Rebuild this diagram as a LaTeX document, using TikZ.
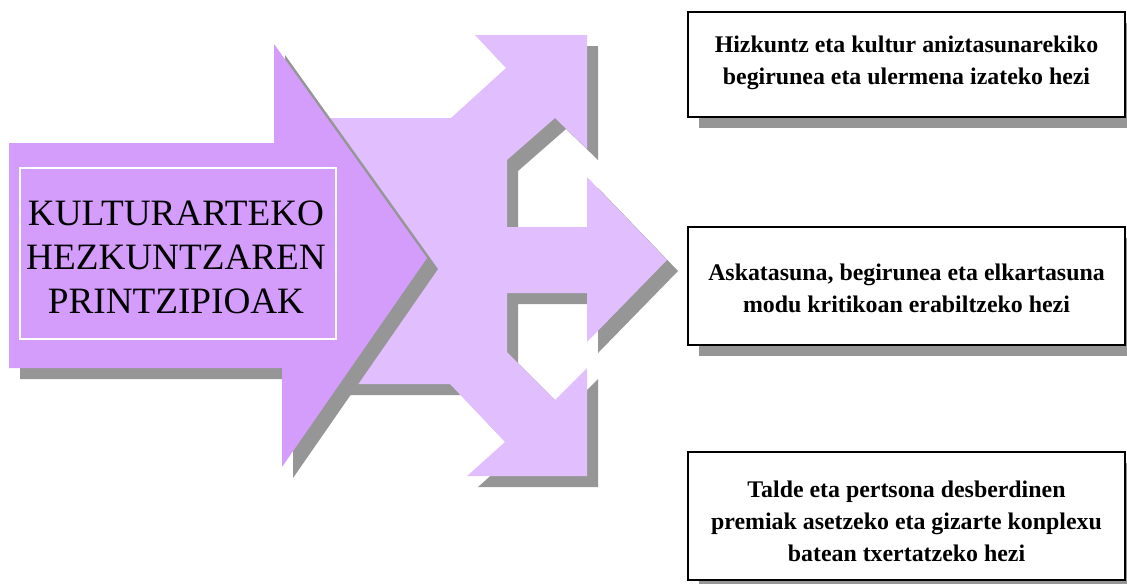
\documentclass[tikz,border=0pt]{standalone}
\usepackage{fontspec}
\setmainfont{Liberation Serif}
\definecolor{mainpurple}{RGB}{212,157,252}
\definecolor{lightpurple}{RGB}{225,190,253}
\definecolor{shadowgray}{RGB}{150,150,150}
\begin{document}
\begin{tikzpicture}[x=0.75pt,y=-0.75pt,
  titletext/.style={align=center,inner sep=0pt,font=\fontsize{27.9pt}{33pt}\selectfont},
  aimtext/.style={align=center,inner sep=0pt,font=\bfseries\fontsize{17.9pt}{24pt}\selectfont},
  aimbox/.style={draw=black,line width=1.2pt,fill=white}]
\useasboundingbox (0,0) rectangle (1127,583);
\fill[shadowgray,shift={(11,11)}] (320,118)--(451,118)--(506,68)--(475,35)--(587,35)--(587,149)--(555,118)--(507,160)--(507,227)--(587,227)--(587,177)--(667,260)--(587,342)--(587,293)--(507,293)--(507,352)--(555,400)--(587,368)--(587,476)--(467,476)--(505,442)--(450,384)--(320,384)--cycle;
\fill[lightpurple] (320,118)--(451,118)--(506,68)--(475,35)--(587,35)--(587,149)--(555,118)--(507,160)--(507,227)--(587,227)--(587,177)--(667,260)--(587,342)--(587,293)--(507,293)--(507,352)--(555,400)--(587,368)--(587,476)--(467,476)--(505,442)--(450,384)--(320,384)--cycle;
\fill[shadowgray,shift={(11,11)}] (9,143)--(274,143)--(274,44)--(427,258)--(282,467)--(282,368)--(9,368)--cycle;
\fill[mainpurple] (9,143)--(274,143)--(274,44)--(427,258)--(282,467)--(282,368)--(9,368)--cycle;
\draw[white,line width=0.9pt] (20,168) rectangle (336,339);
\node[titletext] (title) at (176,257) {KULTURARTEKO\\HEZKUNTZAREN\\PRINTZIPIOAK};
\fill[shadowgray] (699,23) rectangle (1136,128);
\draw[aimbox] (688,12) rectangle (1125,117);
\node[aimtext] (aimA) at (906.5,63) {Hizkuntz eta kultur aniztasunarekiko\\begirunea eta ulermena izateko hezi};
\fill[shadowgray] (699,238) rectangle (1136,356);
\draw[aimbox] (688,227) rectangle (1125,345);
\node[aimtext] (aimB) at (906.5,288) {Askatasuna, begirunea eta elkartasuna\\modu kritikoan erabiltzeko hezi};
\fill[shadowgray] (699,463) rectangle (1136,591);
\draw[aimbox] (688,452) rectangle (1125,580);
\node[aimtext] (aimC) at (906.5,521) {Talde eta pertsona desberdinen\\premiak asetzeko eta gizarte konplexu\\batean txertatzeko hezi};
\end{tikzpicture}
\end{document}
